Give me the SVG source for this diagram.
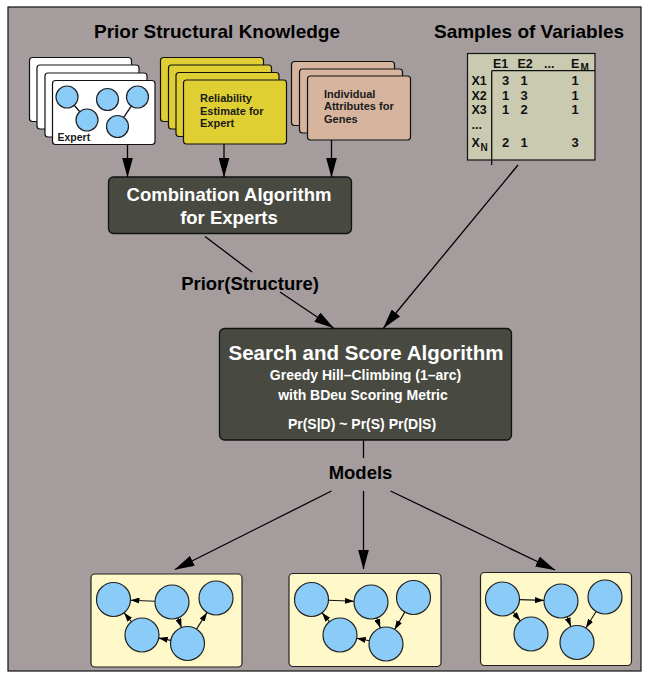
<svg xmlns="http://www.w3.org/2000/svg" width="648" height="677" viewBox="0 0 648 677">
  <defs>
    <style>
      text { font-family: "Liberation Sans", Arial, Helvetica, sans-serif; font-weight: bold; }
      .title { font-size: 19px; fill: #000; }
      .label { font-size: 18.5px; fill: #000; text-anchor: middle; }
      .card { stroke: #111; stroke-width: 1.2; }
      .white { fill: #ffffff; }
      .yellow { fill: #dfcf32; }
      .tan { fill: #d6b49e; }
      .cardtext { font-size: 11px; fill: #1a1a1a; }
      .algo { fill: #484a41; stroke: #111; stroke-width: 1.3; }
      .algotext { fill: #ffffff; text-anchor: middle; }
      .model { fill: #fff9c9; stroke: #222; stroke-width: 1.2; }
      .node { fill: #8acbf8; stroke: #222; stroke-width: 1.2; }
      .edge { stroke: #111; stroke-width: 1.3; fill: none; }
      .medge { stroke: #111; stroke-width: 1.1; fill: none; marker-end: url(#small); }
      .table { fill: #c9cab0; stroke: #111; stroke-width: 1.2; }
      .th { font-size: 12.5px; fill: #111; }
      .td { font-size: 13px; fill: #111; text-anchor: middle; }
    </style>
    <marker id="big" markerUnits="userSpaceOnUse" markerWidth="20" markerHeight="11" viewBox="0 0 20 11" refX="19.5" refY="5.5" orient="auto">
      <path d="M0,0 L20,5.5 L0,11 z" fill="#000"/>
    </marker>
    <marker id="small" markerUnits="userSpaceOnUse" markerWidth="9" markerHeight="6" viewBox="0 0 9 6" refX="9" refY="3" orient="auto">
      <path d="M0,0 L9,3 L0,6 z" fill="#000"/>
    </marker>
  </defs>

  <!-- page frame -->
  <rect x="0" y="0" width="648" height="677" fill="#ffffff"/>
  <rect x="8" y="7" width="633" height="664" fill="#a59d9d" stroke="#111" stroke-width="1.2"/>

  <!-- section headings -->
  <text class="title" x="217" y="38" text-anchor="middle">Prior Structural Knowledge</text>
  <text class="title" x="529" y="38" text-anchor="middle">Samples of Variables</text>

  <!-- stack of expert networks -->
  <g id="experts">
    <rect class="card white" x="29.5" y="57.5" width="102" height="64" rx="3"/>
    <rect class="card white" x="37" y="65" width="102" height="64" rx="3"/>
    <rect class="card white" x="45" y="73" width="102" height="64" rx="3"/>
    <rect class="card white" x="52.5" y="80.5" width="102.5" height="64" rx="3"/>
    <line class="edge" x1="74.2" y1="105.3" x2="79.8" y2="111.7"/>
    <line class="edge" x1="131.3" y1="106.1" x2="123.7" y2="117.4"/>
    <circle class="node" cx="67" cy="97" r="11"/>
    <circle class="node" cx="107.5" cy="99.5" r="11"/>
    <circle class="node" cx="137.5" cy="97" r="11"/>
    <circle class="node" cx="87" cy="120" r="11"/>
    <circle class="node" cx="117.5" cy="126.5" r="11"/>
    <text class="cardtext" x="57.5" y="141" style="font-size:10.5px">Expert</text>
  </g>

  <!-- reliability estimates -->
  <g id="reliability">
    <rect class="card yellow" x="160.5" y="57.5" width="103" height="64" rx="3"/>
    <rect class="card yellow" x="168.5" y="65" width="103" height="64" rx="3"/>
    <rect class="card yellow" x="176" y="72.5" width="103" height="64" rx="3"/>
    <rect class="card yellow" x="183.5" y="80" width="103" height="64" rx="3"/>
    <text class="cardtext" x="200" y="102">Reliability</text>
    <text class="cardtext" x="200" y="114.5">Estimate for</text>
    <text class="cardtext" x="200" y="127">Expert</text>
  </g>

  <!-- gene attributes -->
  <g id="attributes">
    <rect class="card tan" x="291.5" y="61.5" width="103" height="64" rx="3"/>
    <rect class="card tan" x="299.5" y="69" width="103" height="64" rx="3"/>
    <rect class="card tan" x="307.5" y="76" width="103" height="64" rx="3"/>
    <text class="cardtext" x="324" y="97.5">Individual</text>
    <text class="cardtext" x="324" y="110">Attributes for</text>
    <text class="cardtext" x="324" y="122.5">Genes</text>
  </g>

  <!-- data table -->
  <g id="samples">
    <rect class="table" x="467.5" y="53.5" width="127.5" height="106.5"/>
    <line class="edge" x1="491.7" y1="70.7" x2="491.7" y2="165"/>
    <line class="edge" x1="491.7" y1="70.7" x2="595" y2="70.7"/>
    <text class="th" x="493" y="68">E1</text>
    <text class="th" x="517.5" y="68">E2</text>
    <text class="th" x="544" y="68">...</text>
    <text class="th" x="571" y="68">E</text>
    <text class="th" x="580.5" y="70.5" style="font-size:10px">M</text>
    <text class="th" x="471.5" y="85">X1</text>
    <text class="th" x="471.5" y="99.5">X2</text>
    <text class="th" x="471.5" y="114">X3</text>
    <text class="th" x="471.5" y="128.5">...</text>
    <text class="th" x="471.5" y="146.5">X</text>
    <text class="th" x="480.5" y="151" style="font-size:10px">N</text>
    <text class="td" x="505.5" y="85">3</text>
    <text class="td" x="524" y="85">1</text>
    <text class="td" x="575" y="85">1</text>
    <text class="td" x="505.5" y="99.5">1</text>
    <text class="td" x="524" y="99.5">3</text>
    <text class="td" x="575" y="99.5">1</text>
    <text class="td" x="505.5" y="114">1</text>
    <text class="td" x="524" y="114">2</text>
    <text class="td" x="575" y="114">1</text>
    <text class="td" x="505.5" y="146.5">2</text>
    <text class="td" x="524" y="146.5">1</text>
    <text class="td" x="575" y="146.5">3</text>
  </g>

  <!-- combination step -->
  <g id="combination">
    <rect class="algo" x="108.5" y="177" width="243" height="56.5" rx="5"/>
    <text class="algotext" x="229" y="201" style="font-size:18.5px">Combination Algorithm</text>
    <text class="algotext" x="229" y="223.5" style="font-size:18.5px">for Experts</text>
  </g>

  <!-- search step -->
  <g id="search">
    <rect class="algo" x="219.5" y="328.5" width="292" height="111.5" rx="5"/>
    <text class="algotext" x="366" y="359.5" style="font-size:20.5px">Search and Score Algorithm</text>
    <text class="algotext" x="365.5" y="380" style="font-size:14px">Greedy Hill–Climbing (1–arc)</text>
    <text class="algotext" x="363" y="400" style="font-size:14px">with BDeu Scoring Metric</text>
    <text class="algotext" x="362" y="428.5" style="font-size:14px">Pr(S|D) ~ Pr(S) Pr(D|S)</text>
  </g>

  <!-- connector labels -->
  <text class="label" x="250" y="290">Prior(Structure)</text>
  <text class="label" x="360.5" y="479">Models</text>

  <!-- resulting networks -->
  <g id="model1">
    <rect class="model" x="91" y="574" width="151" height="93" rx="4"/>
    <circle class="node" cx="113.5" cy="599.5" r="17"/>
    <circle class="node" cx="172" cy="602" r="17"/>
    <circle class="node" cx="216" cy="598" r="17"/>
    <circle class="node" cx="142" cy="635" r="17"/>
    <circle class="node" cx="187.5" cy="643.5" r="17"/>
    <line class="medge" x1="155" y1="601.3" x2="130.5" y2="600.2"/>
    <line class="medge" x1="131.4" y1="621.7" x2="124.1" y2="612.8"/>
    <line class="medge" x1="178" y1="617.9" x2="181.5" y2="627.6"/>
    <line class="medge" x1="170.8" y1="640.4" x2="158.7" y2="638.1"/>
    <line class="medge" x1="196.5" y1="629.1" x2="207" y2="612.4"/>
  </g>

  <g id="model2">
    <rect class="model" x="289" y="573.5" width="152" height="93" rx="4"/>
    <circle class="node" cx="311.5" cy="599.5" r="17"/>
    <circle class="node" cx="371" cy="602" r="17"/>
    <circle class="node" cx="413.5" cy="597.5" r="17"/>
    <circle class="node" cx="340" cy="635" r="17"/>
    <circle class="node" cx="386" cy="644" r="17"/>
    <line class="medge" x1="328.5" y1="600.2" x2="354" y2="601.3"/>
    <line class="medge" x1="329.4" y1="621.7" x2="322.1" y2="612.8"/>
    <line class="medge" x1="376.7" y1="618" x2="380.3" y2="628"/>
    <line class="medge" x1="404.8" y1="612.1" x2="394.7" y2="629.4"/>
    <line class="medge" x1="369.3" y1="640.7" x2="356.7" y2="638.3"/>
  </g>

  <g id="model3">
    <rect class="model" x="480.5" y="572.5" width="151" height="93" rx="4"/>
    <circle class="node" cx="502.5" cy="599" r="17"/>
    <circle class="node" cx="561" cy="601" r="17"/>
    <circle class="node" cx="605" cy="597" r="17"/>
    <circle class="node" cx="531" cy="634" r="17"/>
    <circle class="node" cx="577" cy="642.5" r="17"/>
    <line class="medge" x1="519.5" y1="599.6" x2="544" y2="600.4"/>
    <line class="medge" x1="513.2" y1="612.2" x2="520.3" y2="620.8"/>
    <line class="medge" x1="567.1" y1="616.9" x2="570.9" y2="626.6"/>
    <line class="medge" x1="596.1" y1="611.5" x2="585.9" y2="628"/>
  </g>

  <!-- flow between the stages -->
  <g id="connectors" stroke="#000" stroke-width="1.3" fill="none">
    <line x1="127.5" y1="144.5" x2="127.5" y2="177" marker-end="url(#big)"/>
    <line x1="224" y1="144" x2="224" y2="177" marker-end="url(#big)"/>
    <line x1="331.5" y1="140" x2="331.5" y2="177" marker-end="url(#big)"/>
    <line x1="205" y1="236.5" x2="252" y2="272"/>
    <line x1="280" y1="292" x2="333.5" y2="328" marker-end="url(#big)"/>
    <line x1="518" y1="165" x2="383.5" y2="328" marker-end="url(#big)"/>
    <line x1="363.5" y1="440" x2="363.5" y2="458"/>
    <line x1="331.5" y1="491" x2="175" y2="569.5" marker-end="url(#big)"/>
    <line x1="363.5" y1="491" x2="363.5" y2="569" marker-end="url(#big)"/>
    <line x1="390.5" y1="491" x2="555" y2="570" marker-end="url(#big)"/>
  </g>
</svg>
